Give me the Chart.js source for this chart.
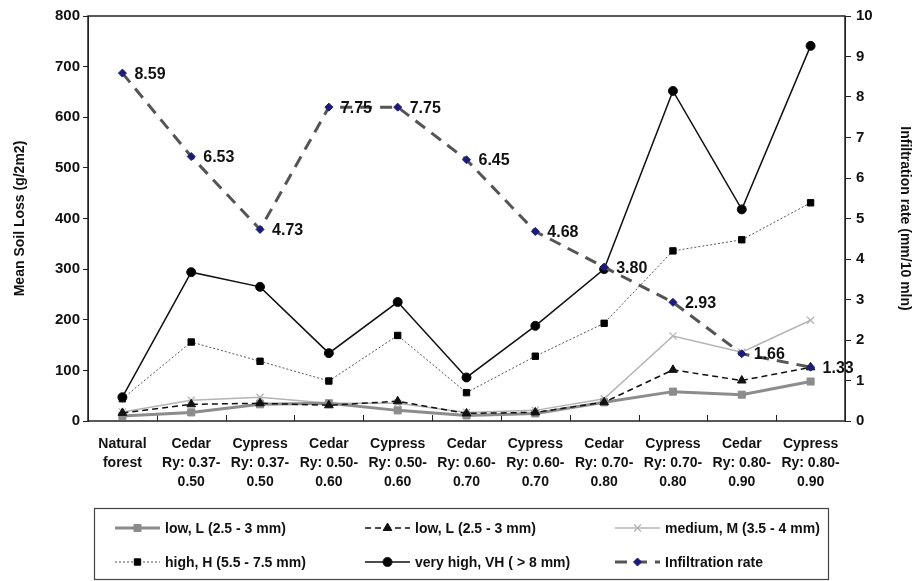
<!DOCTYPE html>
<html><head><meta charset="utf-8">
<script src="https://cdn.jsdelivr.net/npm/chart.js@4.4.1/dist/chart.umd.min.js"></script>
<style>html,body{margin:0;padding:0;background:#fff;}canvas{display:block;}</style>
</head><body>
<canvas id="c" width="913" height="581"></canvas>
<script>
const categories = [
  ["Natural","forest"],
  ["Cedar","Ry: 0.37-","0.50"],["Cypress","Ry: 0.37-","0.50"],
  ["Cedar","Ry: 0.50-","0.60"],["Cypress","Ry: 0.50-","0.60"],
  ["Cedar","Ry: 0.60-","0.70"],["Cypress","Ry: 0.60-","0.70"],
  ["Cedar","Ry: 0.70-","0.80"],["Cypress","Ry: 0.70-","0.80"],
  ["Cedar","Ry: 0.80-","0.90"],["Cypress","Ry: 0.80-","0.90"]
];
const seriesNames = ["low, L (2.5 - 3 mm)","low, L (2.5 - 3 mm)","medium, M (3.5 - 4 mm)","high, H (5.5 - 7.5 mm)","very high, VH ( > 8 mm)","Infiltration rate"];
const lowLSquare   = [10, 17, 33, 35, 21, 11, 15, 37, 58, 52, 78];
const lowLTriangle = [16, 33, 35, 31, 39, 15, 17, 37, 101, 80, 106];
const mediumM      = [18, 41, 47, 35, 35, 17, 21, 44, 168, 136, 199];
const highH        = [44, 156, 118, 79, 169, 56, 128, 193, 336, 358, 431];
const veryHighVH   = [47, 294, 265, 134, 235, 86, 188, 300, 652, 418, 741];
const infiltration = [8.59, 6.53, 4.73, 7.75, 7.75, 6.45, 4.68, 3.80, 2.93, 1.66, 1.33];
const leftAxis = {min: 0, max: 800, step: 100, title: "Mean Soil Loss (g/2m2)"};
const rightAxis = {min: 0, max: 10, step: 1, title: "Infiltration rate (mm/10 mln)"};

const FONT = "'Liberation Sans', Arial, sans-serif";

const datasets = [
  {label: seriesNames[0], data: lowLSquare, yAxisID: 'y', borderColor: '#8c8c8c', backgroundColor: '#8c8c8c',
   borderWidth: 3, pointStyle: 'rect', pointRadius: 5, pointBorderWidth: 1, order: 5},
  {label: seriesNames[1], data: lowLTriangle, yAxisID: 'y', borderColor: '#111', backgroundColor: '#111',
   borderWidth: 1.5, borderDash: [6,4], pointStyle: 'triangle', pointRadius: 5, pointBorderWidth: 1, order: 4},
  {label: seriesNames[2], data: mediumM, yAxisID: 'y', borderColor: '#b4b4b4', backgroundColor: '#b4b4b4',
   borderWidth: 1.5, pointStyle: 'crossRot', pointRadius: 5, pointBorderWidth: 1.3, order: 6},
  {label: seriesNames[3], data: highH, yAxisID: 'y', borderColor: '#555', backgroundColor: '#000', pointBorderColor: '#000',
   borderWidth: 1, borderDash: [2,2], pointStyle: 'rect', pointRadius: 4.5, pointBorderWidth: 1, order: 3},
  {label: seriesNames[4], data: veryHighVH, yAxisID: 'y', borderColor: '#111', backgroundColor: '#000',
   borderWidth: 1.5, pointStyle: 'circle', pointRadius: 4.5, pointBorderWidth: 1, order: 2},
  {label: seriesNames[5], data: infiltration, yAxisID: 'y1', borderColor: '#555', backgroundColor: '#1c1c78', pointBorderColor: '#1c1c78',
   borderWidth: 3, borderDash: [12,8], pointStyle: 'rectRot', pointRadius: 4, pointBorderWidth: 1, order: 1}
];

const decor = {
  id: 'decor',
  beforeDatasetsDraw(chart) {
    const {ctx, chartArea: a, scales: {x}} = chart;
    ctx.save();
    ctx.strokeStyle = '#222'; ctx.lineWidth = 1;
    for (let i = 1; i < categories.length; i++) {
      const px = Math.round((x.getPixelForValue(i - 1) + x.getPixelForValue(i)) / 2) + 0.5;
      ctx.beginPath(); ctx.moveTo(px, a.bottom); ctx.lineTo(px, a.bottom - 6); ctx.stroke();
    }
    ctx.restore();
  },
  afterDatasetsDraw(chart) {
    const {ctx, chartArea: a} = chart;
    ctx.save();
    ctx.strokeStyle = '#222'; ctx.lineWidth = 1.5;
    ctx.strokeRect(a.left, a.top, a.right - a.left, a.bottom - a.top);
    // data labels for infiltration
    const idx = datasets.length - 1;
    const meta = chart.getDatasetMeta(idx);
    ctx.fillStyle = '#111';
    ctx.font = "bold 16px " + FONT;
    ctx.textBaseline = 'middle'; ctx.textAlign = 'left';
    meta.data.forEach((pt, i) => {
      ctx.fillText(infiltration[i].toFixed(2), pt.x + 12, pt.y + 1);
    });
    // legend
    const box = {l: 94, t: 508, r: 828, b: 579};
    ctx.strokeStyle = '#444'; ctx.lineWidth = 1.2;
    ctx.strokeRect(box.l + 0.5, box.t + 0.5, box.r - box.l, box.b - box.t);
    const cols = [{s: 115, e: 160}, {s: 365, e: 410}, {s: 615, e: 660}];
    const rows = [528, 562];
    ctx.font = "bold 14px " + FONT;
    datasets.forEach((ds, i) => {
      const c = cols[i % 3], y = rows[Math.floor(i / 3)];
      ctx.save();
      ctx.strokeStyle = ds.borderColor; ctx.lineWidth = ds.borderWidth;
      ctx.setLineDash(ds.borderDash || []);
      ctx.beginPath(); ctx.moveTo(c.s, y); ctx.lineTo(c.e, y); ctx.stroke();
      ctx.setLineDash([]);
      ctx.fillStyle = ds.backgroundColor;
      ctx.strokeStyle = ds.pointBorderColor || ds.borderColor;
      ctx.lineWidth = ds.pointBorderWidth;
      Chart.helpers.drawPoint(ctx, {pointStyle: ds.pointStyle, radius: ds.pointRadius, rotation: 0, borderWidth: ds.pointBorderWidth}, (c.s + c.e) / 2, y);
      ctx.restore();
      ctx.fillStyle = '#111';
      ctx.textBaseline = 'middle'; ctx.textAlign = 'left';
      ctx.fillText(ds.label, c.e + 5, y + 1);
    });
    ctx.restore();
  }
};

new Chart(document.getElementById('c'), {
  type: 'line',
  data: {labels: categories, datasets},
  options: {
    responsive: false, animation: false,
    layout: {padding: {top: 16, bottom: 80, left: 0, right: 0}},
    plugins: {legend: {display: false}, tooltip: {enabled: false}},
    elements: {line: {tension: 0}},
    scales: {
      x: {
        offset: true,
        grid: {display: false},
        border: {display: false},
        ticks: {color: '#111', font: {family: FONT, size: 14, weight: 'bold', lineHeight: 1.35}, padding: 6, maxRotation: 0, autoSkip: false},
        afterFit(s) { s.height = 80; }
      },
      y: {
        position: 'left', min: leftAxis.min, max: leftAxis.max,
        grid: {drawOnChartArea: false, drawTicks: true, tickLength: 5, color: '#222'},
        border: {display: true, color: '#222'},
        ticks: {stepSize: leftAxis.step, color: '#111', font: {family: FONT, size: 15, weight: 'bold'}, padding: 3},
        title: {display: true, text: leftAxis.title, color: '#111', font: {family: FONT, size: 14, weight: 'bold'}, padding: {top: 12, bottom: 0}},
        afterFit(s) { s.width = 88; }
      },
      y1: {
        position: 'right', min: rightAxis.min, max: rightAxis.max,
        grid: {drawOnChartArea: false, drawTicks: true, tickLength: 6, color: '#222'},
        border: {display: true, color: '#222'},
        ticks: {stepSize: rightAxis.step, color: '#111', font: {family: FONT, size: 15, weight: 'bold'}, padding: 5},
        title: {display: true, text: rightAxis.title, color: '#111', font: {family: FONT, size: 14, weight: 'bold'}, padding: {top: 0, bottom: 0}},
        afterFit(s) { s.width = 68; }
      }
    }
  },
  plugins: [decor]
});
</script>
</body></html>
